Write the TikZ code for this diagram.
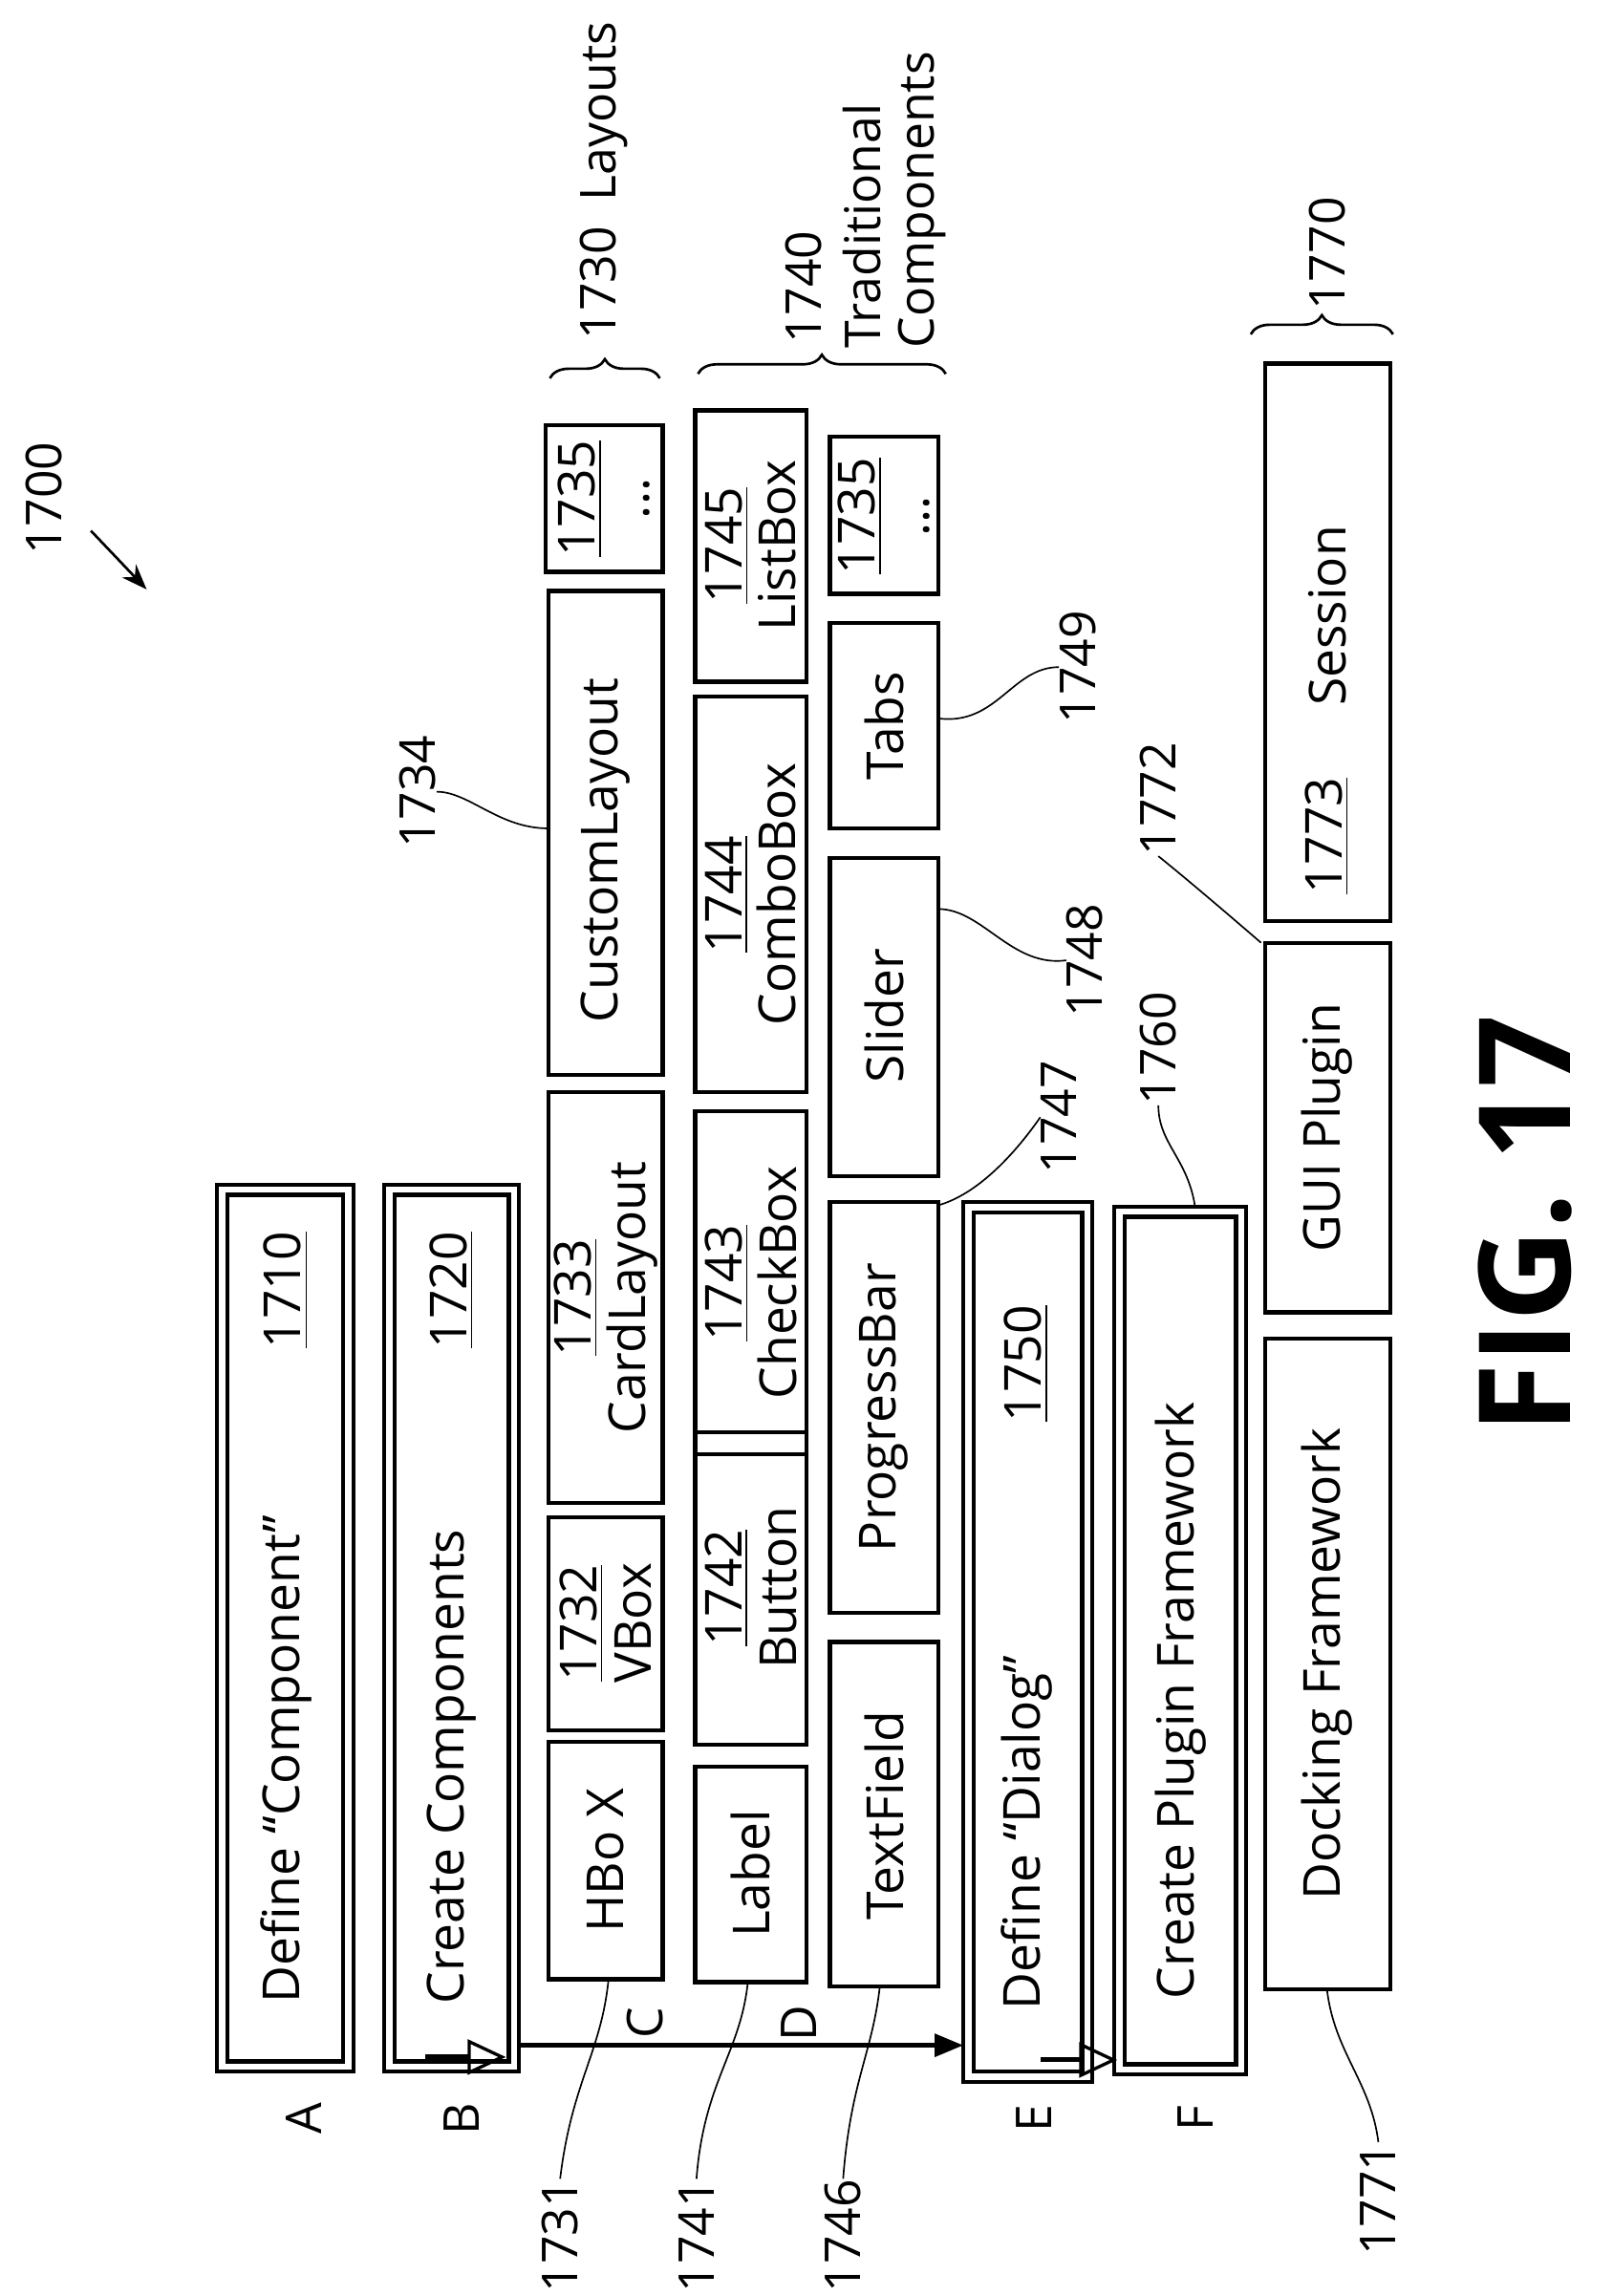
\documentclass[tikz,border=0pt]{standalone}
\usepackage{fontspec}
\setmainfont{Open Sans}
\usetikzlibrary{fit,decorations.pathreplacing,arrows.meta}
\begin{document}
\begin{tikzpicture}[x=0.46pt,y=-0.46pt,
  box/.style={draw,line width=1.3pt,inner sep=0pt},
  txt/.style={rotate=90,font=\fontsize{16}{17}\selectfont,inner sep=0pt,align=center},
  lbl/.style={rotate=90,font=\fontsize{15.5}{17}\selectfont,inner sep=0pt},
  lead/.style={line width=0.5pt},
  hol/.style={-{Triangle[open,length=12pt,width=11pt,line width=1pt]},line width=1.5pt},
  brc/.style={decorate,decoration={brace,amplitude=6pt},line width=0.8pt}]
\useasboundingbox (0,0) rectangle (1100,1566);
\newcommand\bx[5]{\node[box,fit={(#2,#3)(#4,#5)}] (#1) {};}
\newcommand\dbx[5]{\node[box,fit={(#2,#3)(#4,#5)}] (#1) {};
  \node[box,fit={(#2+7,#3+7)(#4-7,#5-7)}] (#1i) {};}
% A
\dbx{A}{148}{808}{241}{1413}
\node[txt] (tA) at (195,1200) {Define “Component”};
\node[txt] (nA) at (195,880) {\underline{1710}};
\node[lbl] (la) at (207,1445) {A};
% B
\dbx{B}{262}{808}{354}{1413}
\node[txt] (tB) at (308,1205) {Create Components};
\node[txt] (nB) at (308,880) {\underline{1720}};
\node[lbl] (lb) at (315,1445) {B};
\coordinate (b1) at (290,1403); \coordinate (b2) at (345,1403);
\draw[hol] (b1) -- (b2);
% C row
\bx{hbox}{374}{1188}{452}{1350}
\node[txt] (t1) at (413,1269) {HBo X};
\bx{vbox}{374}{1035}{452}{1180}
\node[txt] (t2) at (413,1107) {\underline{1732}\\VBox};
\bx{card}{374}{745}{452}{1025}
\node[txt] (t3) at (413,885) {\underline{1733}\\CardLayout};
\bx{custom}{374}{403}{452}{733}
\node[txt] (t4) at (413,580) {CustomLayout};
\bx{c35}{372}{290}{452}{390}
\node[txt] (t5) at (412,340) {\underline{1735}\\...};
\node[lbl] (lc) at (440,1380) {C};
\coordinate (br1a) at (375,258); \coordinate (br1b) at (450,258);
\draw[brc] (br1a) -- (br1b);
\node[lbl,anchor=west] (l1730) at (412,232) {1730~~Layouts};
% D row
\bx{label}{474}{1205}{550}{1352}
\node[txt] (t6) at (512,1278) {Label};
\bx{button}{474}{977}{550}{1190}
\node[txt] (t7) at (512,1083) {\underline{1742}\\Button};
\bx{check}{474}{758}{550}{992}
\node[txt] (t8) at (512,875) {\underline{1743}\\CheckBox};
\bx{combo}{474}{475}{550}{745}
\node[txt] (t9) at (512,610) {\underline{1744}\\ComboBox};
\bx{list}{474}{280}{550}{465}
\node[txt] (t10) at (512,372) {\underline{1745}\\ListBox};
\node[lbl] (ld) at (545,1380) {D};
\coordinate (br2a) at (476,255); \coordinate (br2b) at (645,255);
\draw[brc] (br2a) -- (br2b);
\node[lbl,anchor=west] (l1740) at (548,235) {1740};
\node[lbl,anchor=west,align=left] (l1740b) at (610,238) {Traditional\\Components};
% third row
\bx{textf}{566}{1120}{640}{1355}
\node[txt] (t11) at (603,1238) {TextField};
\bx{prog}{566}{820}{640}{1100}
\node[txt] (t12) at (603,960) {ProgressBar};
\bx{slider}{566}{585}{640}{802}
\node[txt] (t13) at (603,693) {Slider};
\bx{tabs}{566}{425}{640}{565}
\node[txt] (t14) at (603,495) {Tabs};
\bx{d35}{566}{298}{640}{405}
\node[txt] (t15) at (603,352) {\underline{1735}\\...};
% E
\dbx{E}{657}{820}{745}{1420}
\node[txt] (tE) at (700,1250) {Define “Dialog”};
\node[txt] (nE) at (700,930) {\underline{1750}};
\node[lbl] (le) at (705,1445) {E};
\coordinate (e1) at (710,1405); \coordinate (e2) at (762,1405);
\draw[hol] (e1) -- (e2);
\coordinate (bE) at (354,1395); \coordinate (eE) at (657,1395);
\draw[-{Triangle[length=9pt,width=7pt]},line width=1.5pt] (bE) -- (eE);
% F
\dbx{F}{760}{823}{850}{1415}
\node[txt] (tF) at (805,1160) {Create Plugin Framework};
\node[lbl] (lf) at (815,1445) {F};
% last row
\bx{dock}{863}{913}{948}{1357}
\node[txt] (t16) at (905,1135) {Docking Framework};
\bx{gui}{863}{643}{948}{895}
\node[txt] (t17) at (905,769) {GUI Plugin};
\bx{sess}{863}{248}{948}{628}
\node[txt] (t18) at (905,570) {\underline{1773}};
\node[txt] (t19) at (905,420) {Session};
\coordinate (br3a) at (853,228); \coordinate (br3b) at (950,228);
\draw[brc] (br3a) -- (br3b);
\node[lbl,anchor=west] (l1770) at (905,212) {1770};
% leaders
\node[lbl] (n1731) at (382,1525) {1731};
\node[lbl] (n1741) at (475,1525) {1741};
\node[lbl] (n1746) at (575,1525) {1746};
\node[lbl] (n1771) at (940,1500) {1771};
\node[lbl] (n1747) at (722,762) {1747};
\node[lbl] (n1748) at (740,655) {1748};
\node[lbl] (n1749) at (735,455) {1749};
\node[lbl] (n1760) at (790,715) {1760};
\node[lbl] (n1772) at (790,545) {1772};
\node[lbl] (n1734) at (285,540) {1734};
\node[lbl] (n1700) at (30,340) {1700};
\coordinate (c1) at (415,1350);\coordinate (c2) at (510,1352);\coordinate (c3) at (600,1355);
\coordinate (c4) at (905,1357);
\draw[lead] (n1731.east) .. controls (390,1420) and (410,1400) .. (c1);
\draw[lead] (n1741.east) .. controls (480,1420) and (505,1400) .. (c2);
\draw[lead] (n1746.east) .. controls (580,1420) and (595,1400) .. (c3);
\draw[lead] (n1771.east) .. controls (935,1420) and (910,1400) .. (c4);
\coordinate (c5) at (640,822);\coordinate (c6) at (640,620);\coordinate (c7) at (640,490);
\coordinate (c8) at (815,823);\coordinate (c9) at (860,643);\coordinate (c10) at (374,565);
\draw[lead] (c5) .. controls (665,815) and (690,790) .. (n1747.north);
\draw[lead] (c6) .. controls (670,620) and (690,660) .. (n1748.north);
\draw[lead] (c7) .. controls (680,495) and (690,455) .. (n1749.north);
\draw[lead] (c8) .. controls (810,790) and (790,780) .. (n1760.west);
\draw[lead] (c9) .. controls (845,630) and (810,600) .. (n1772.west);
\draw[lead] (n1734.south) .. controls (320,540) and (340,565) .. (c10);
\coordinate (a2) at (100,402);
\draw[-{Stealth[length=8pt]},line width=0.8pt] (62,362) -- (a2);
\node[rotate=90,font=\fontsize{40}{44}\selectfont\bfseries] (fig) at (1040,835) {FIG. 17};
\end{tikzpicture}
\end{document}
